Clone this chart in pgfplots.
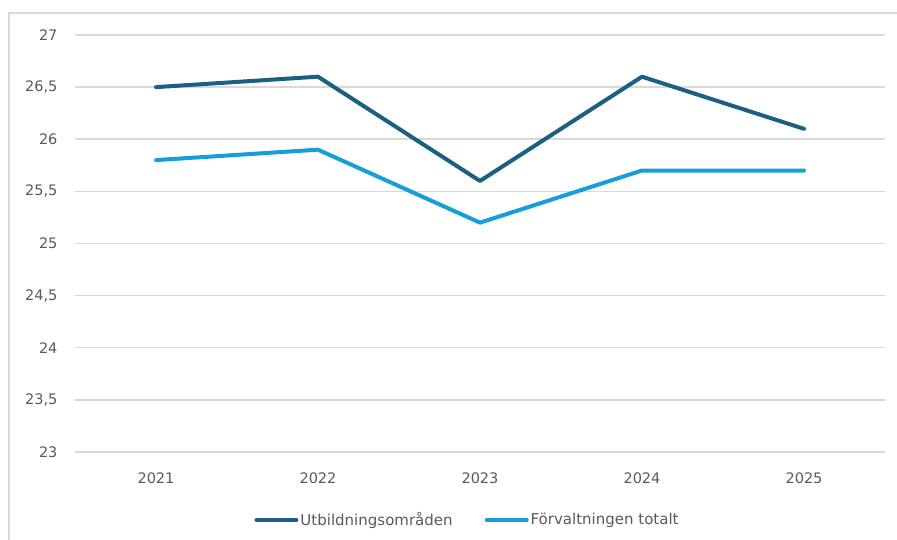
\documentclass[border=0pt]{standalone}
\usepackage{pgfplots}
\pgfplotsset{compat=1.18}
\usepackage{fontspec}
\setmainfont{DejaVu Sans}
\definecolor{utb}{HTML}{1B5F82}
\definecolor{forv}{HTML}{169FD6}
\definecolor{gridc}{HTML}{D9D9D9}
\definecolor{txt}{HTML}{595959}
\begin{document}
\begin{tikzpicture}[x=1pt,y=1pt]
\useasboundingbox (0,0) rectangle (897,540);
\draw[gridc, line width=1.5pt] (9,0) -- (9,527) -- (897,527);
\begin{axis}[
    at={(75pt,88pt)}, anchor=south west,
    scale only axis,
    width=810pt, height=417pt,
    xmin=-0.5, xmax=4.5,
    ymin=23, ymax=27,
    xtick={0,1,2,3,4},
    xticklabels={2021,2022,2023,2024,2025},
    ytick={23,23.5,...,27},
    /pgf/number format/use comma,
    /pgf/number format/fixed,
    /pgf/number format/assume math mode=true,
    y tick label style={font=\fontsize{14.5}{16}\selectfont, text=txt, anchor=east, xshift=-14pt},
    x tick label style={font=\fontsize{14.5}{16}\selectfont, text=txt, yshift=-17pt},
    axis line style={draw=none},
    major tick length=0pt,
    ymajorgrids=true,
    grid style={gridc, line width=1.5pt},
    legend style={draw=none, fill=none, at={(0.4846,-0.163)}, anchor=center,
        legend columns=2, font=\fontsize{15}{17}\selectfont, text=txt,
        /tikz/every even column/.append style={column sep=30pt}},
    legend image code/.code={\draw[#1, line width=4pt, line cap=round] (0pt,0pt) -- (40pt,0pt);},
]
\addplot[utb, line width=4pt, line cap=round, line join=round] coordinates {
(0,26.5) (1,26.6) (2,25.6) (3,26.6) (4,26.1)
};
\addlegendentry{Utbildningsområden}
\addplot[forv, line width=4pt, line cap=round, line join=round] coordinates {
(0,25.8) (1,25.9) (2,25.2) (3,25.7) (4,25.7)
};
\addlegendentry{Förvaltningen totalt}
\end{axis}
\end{tikzpicture}
\end{document}
